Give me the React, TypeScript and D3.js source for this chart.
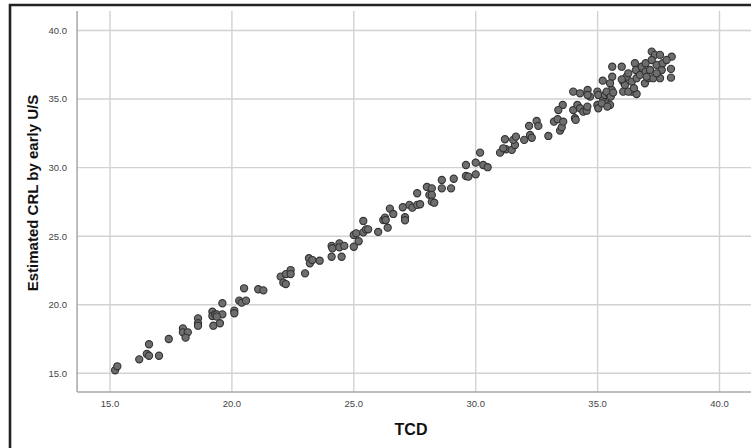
import React from 'react'
import * as d3 from 'd3'

// TCD (x) vs Estimated CRL by early U/S (y)
const tcd = [
  15.21, 15.30, 16.20, 16.60, 16.51, 16.60, 17.01, 17.41, 17.99, 17.99, 18.19, 18.10,
  18.61, 18.61, 18.61, 19.20, 19.20, 19.31, 19.38, 19.24, 19.51, 19.61, 19.61, 19.38,
  20.10, 20.10, 20.30, 20.40, 20.58, 20.50, 21.08, 21.29, 22.00, 22.11, 22.21, 22.22,
  22.41, 22.41, 23.00, 23.16, 23.20, 23.30, 23.60, 24.09, 24.09, 24.12, 24.41, 24.41,
  24.50, 24.61, 25.00, 25.00, 25.10, 25.20, 25.39, 25.39, 25.50, 25.59, 26.00, 26.21,
  26.28, 26.31, 26.39, 26.48, 26.62, 27.01, 27.10, 27.10, 27.28, 27.40, 27.60, 27.72,
  27.60, 28.00, 28.10, 28.20, 28.20, 28.20, 28.30, 28.61, 28.61, 28.99, 29.10, 29.60,
  29.60, 29.70, 30.00, 30.00, 30.18, 30.31, 30.49, 31.00, 31.24, 31.48, 31.61,
  31.20, 31.13, 31.54, 31.65, 31.99, 32.23, 32.30, 32.19, 32.50, 32.57, 32.98, 33.21,
  33.36, 33.46, 33.53, 33.59, 33.57, 33.39, 34.00, 34.07, 34.10, 34.17, 34.28, 34.41,
  34.55, 34.58, 34.00, 34.28, 34.59, 34.69, 34.99, 35.03, 34.99, 35.03, 35.23, 35.30,
  35.44, 35.37, 35.51, 35.58, 35.21, 35.60, 35.60, 35.99, 36.05, 36.05, 36.19, 36.12,
  36.26, 36.40, 36.40, 36.53, 36.57, 36.60, 36.60, 36.74, 36.81, 36.97, 36.97, 36.94,
  37.08, 37.15, 37.22, 37.35, 37.42, 37.56, 37.63, 37.56, 37.67, 38.04, 38.01, 38.01,
  37.83, 37.28, 37.01, 37.42, 37.22, 34.59, 35.17, 35.37, 35.40, 35.54, 35.51, 35.64,
  35.99, 36.26, 36.49,
]
const crl = [
  15.22, 15.51, 16.02, 17.12, 16.41, 16.28, 16.28, 17.50, 18.28, 17.99, 17.99, 17.60,
  19.01, 18.65, 18.47, 19.49, 19.18, 19.30, 19.30, 18.47, 18.65, 19.30, 20.11, 19.13,
  19.57, 19.38, 20.30, 20.15, 20.30, 21.20, 21.13, 21.05, 22.05, 21.61, 21.51, 22.24,
  22.53, 22.24, 22.29, 23.39, 23.02, 23.26, 23.21, 24.29, 23.50, 24.12, 24.48, 24.19,
  23.50, 24.29, 25.09, 24.23, 25.21, 24.63, 26.11, 25.28, 25.50, 25.50, 25.31, 26.18,
  26.35, 26.18, 25.62, 27.01, 26.62, 27.11, 26.38, 26.16, 27.28, 27.08, 27.28, 27.33,
  28.13, 28.59, 28.01, 28.49, 28.01, 27.52, 27.44, 29.10, 28.49, 28.49, 29.19, 30.19,
  29.39, 29.34, 30.36, 29.51, 31.09, 30.19, 30.03, 31.09, 31.34, 31.29, 31.65,
  32.07, 31.41, 32.02, 32.26, 32.02, 32.38, 32.18, 33.04, 33.40, 33.04, 32.31, 33.35,
  33.53, 32.70, 32.94, 33.35, 34.57, 34.20, 34.20, 33.60, 33.48, 34.57, 34.33, 34.08,
  34.15, 34.45, 35.54, 35.42, 35.66, 35.18, 35.54, 35.30, 34.57, 34.33, 34.93, 35.30,
  35.42, 34.69, 34.57, 35.66, 36.34, 36.63, 37.36, 37.36, 36.27, 35.54, 36.63, 36.03,
  36.88, 36.27, 35.54, 37.61, 37.12, 36.52, 35.37, 36.76, 37.36, 37.61, 37.00, 36.15,
  36.52, 37.12, 38.46, 38.22, 37.49, 38.22, 37.12, 36.52, 37.61, 38.09, 37.20, 36.56,
  37.85, 36.52, 36.63, 36.88, 37.85, 35.30, 34.69, 35.54, 34.45, 35.18, 36.15, 35.47,
  36.44, 35.54, 35.79,
]
const xTicks = [15, 20, 25, 30, 35, 40]
const yTicks = [15, 20, 25, 30, 35, 40]

const W = 751
const H = 448

export default function App() {
  const x = d3.scaleLinear().domain([15, 40]).range([110, 719.5])
  const y = d3.scaleLinear().domain([15, 40]).range([373.3, 30.5])
  const left = x(13.65)
  const right = W
  const top = 11
  const bottom = 392
  const fmt = d3.format('.1f')
  const points = d3.zip(tcd, crl)

  return (
    <svg width={W} height={H} style={{ position: 'absolute', left: 0, top: 0 }}
      fontFamily="'Liberation Sans', Arial, sans-serif">
      <rect x={0} y={0} width={W} height={H} fill="#fff" />
      {/* frame, only the left and top edges are in view */}
      <line x1={10} x2={10} y1={4} y2={H} stroke="#222" strokeWidth={2.6} />
      <line x1={9} x2={W} y1={5} y2={5} stroke="#222" strokeWidth={2.6} />

      {xTicks.map(t => (
        <line key={'gx' + t} x1={x(t)} x2={x(t)} y1={top} y2={bottom} stroke="#d2d2d2" strokeWidth={1.4} />
      ))}
      {yTicks.map(t => (
        <line key={'gy' + t} x1={left} x2={right} y1={y(t)} y2={y(t)} stroke="#d2d2d2" strokeWidth={1.4} />
      ))}
      <line x1={left} x2={left} y1={top} y2={bottom} stroke="#a8a8a8" strokeWidth={1.5} />
      <line x1={left} x2={right} y1={bottom} y2={bottom} stroke="#a8a8a8" strokeWidth={1.5} />

      {xTicks.map(t => (
        <text key={'tx' + t} x={x(t)} y={406.5} textAnchor="middle" fontSize={9.5} fill="#444">{fmt(t)}</text>
      ))}
      {yTicks.map(t => (
        <text key={'ty' + t} x={67} y={y(t)} dy="0.35em" textAnchor="end" fontSize={9.5} fill="#444">{fmt(t)}</text>
      ))}

      {points.map(([a, b], i) => (
        <circle key={i} cx={x(a)} cy={y(b)} r={3.6} fill="#6e6e6e" stroke="#333" strokeWidth={1.1} />
      ))}

      <text x={411} y={435} textAnchor="middle" fontSize={16} fontWeight="bold" fill="#111">TCD</text>
      <text transform={`translate(38,193) rotate(-90)`} textAnchor="middle" fontSize={15} fontWeight="bold" fill="#111">
        Estimated CRL by early U/S
      </text>
    </svg>
  )
}
